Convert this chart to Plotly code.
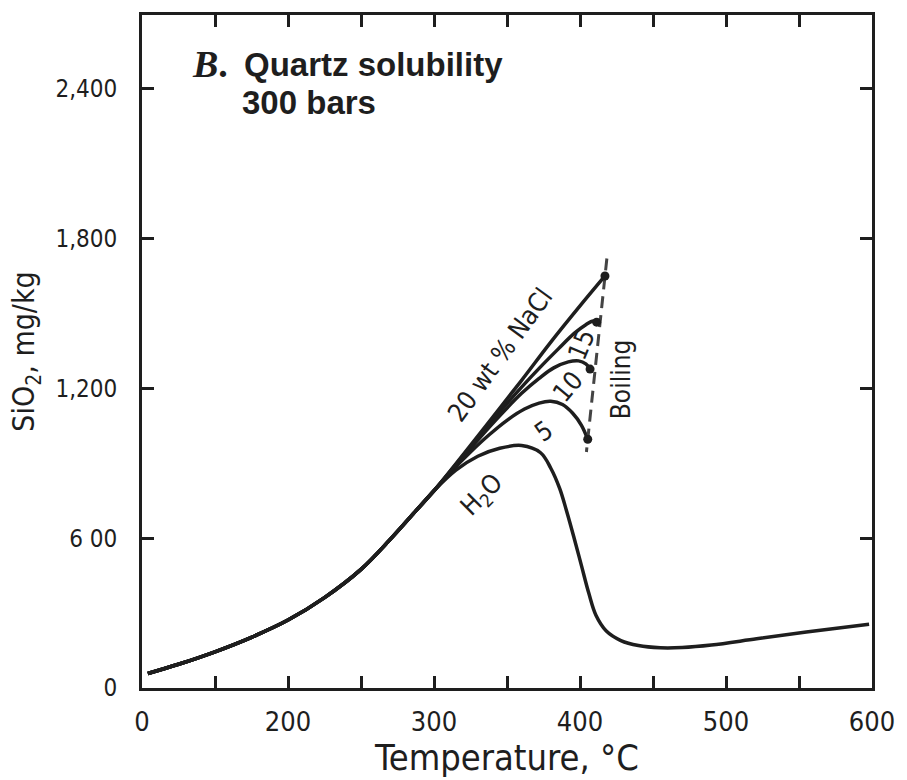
import plotly.graph_objects as go

# ---------------- data ----------------
# shared low-temperature part (all solutions coincide below ~290 °C)
common_T = [104, 125, 150, 175, 200, 225, 250, 270, 288, 300]
common_y = [58, 95, 145, 203, 272, 362, 475, 595, 712, 790]

h2o_T = [315, 330, 345, 360, 373, 380, 386, 391, 396, 401, 406, 411, 418, 428, 440, 455, 470, 490, 521, 555, 598]
h2o_y = [872, 928, 960, 971, 942, 880, 800, 705, 600, 490, 380, 290, 228, 190, 170, 161, 162, 172, 197, 224, 255]

nacl5_T = [312, 325, 338, 350, 362, 372, 380, 388, 395, 401, 405.3]
nacl5_y = [868, 945, 1015, 1072, 1117, 1141, 1148, 1135, 1100, 1052, 996]

nacl10_T = [315, 330, 345, 360, 372, 382, 392, 399, 404, 406.9]
nacl10_y = [892, 993, 1090, 1180, 1240, 1282, 1306, 1310, 1298, 1277]

nacl15_T = [315, 330, 345, 360, 372, 385, 396, 404, 409, 411.4]
nacl15_y = [895, 1002, 1106, 1205, 1280, 1357, 1420, 1455, 1470, 1465]

nacl20_T = [320, 340, 360, 380, 400, 417.1]
nacl20_y = [935, 1083, 1232, 1385, 1530, 1650]

boil_T = [418.4, 404.4]
boil_y = [1720, 945]

x_tickvals = [100, 200, 300, 400, 500, 600]
x_ticktext = ["0", "200", "300", "400", "500", "600"]
x_minorvals = [150, 250, 350, 450, 550]
y_tickvals = [0, 600, 1200, 1800, 2400]
y_ticktext = ["0", "6 00", "1,200", "1,800", "2,400"]

NARROW = "Liberation Sans Narrow, Arial Narrow, DejaVu Sans Condensed, sans-serif"
INK = "#1e1e1e"

fig = go.Figure()
line = dict(color=INK, width=3.5, shape="spline", smoothing=1.0)
for T, y in [(h2o_T, h2o_y), (nacl5_T, nacl5_y), (nacl10_T, nacl10_y),
             (nacl15_T, nacl15_y), (nacl20_T, nacl20_y)]:
    fig.add_trace(go.Scatter(x=common_T + T, y=common_y + y, mode="lines", line=line, hoverinfo="skip"))

fig.add_trace(go.Scatter(x=boil_T, y=boil_y, mode="lines",
                         line=dict(color="#444444", width=3, dash="12px,7px"), hoverinfo="skip"))

end_T = [nacl5_T[-1], nacl10_T[-1], nacl15_T[-1], nacl20_T[-1]]
end_y = [nacl5_y[-1], nacl10_y[-1], nacl15_y[-1], nacl20_y[-1]]
fig.add_trace(go.Scatter(x=end_T, y=end_y, mode="markers",
                         marker=dict(color=INK, size=9), hoverinfo="skip"))

lab_font = dict(family=NARROW, size=26, color=INK)
labels = [
    ("20 wt % NaCl", 345, 1335, -54),
    ("15", 401, 1378, -68),
    ("10", 392, 1208, -50),
    ("5", 375, 1030, -35),
    ("H<sub>2</sub>O", 333, 772, -45),
    ("Boiling", 428, 1236, -90),
]
for txt, x, y, ang in labels:
    fig.add_annotation(x=x, y=y, text=txt, showarrow=False, textangle=ang, font=lab_font)

# title
fig.add_annotation(xref="paper", yref="paper", x=0.066, y=0.9268, xanchor="left", yanchor="middle",
                   text="<b><i>B</i></b><b>.</b>", showarrow=False,
                   font=dict(family="Liberation Serif, serif", size=38, color=INK))
fig.add_annotation(xref="paper", yref="paper", x=0.137, y=0.9268, xanchor="left", yanchor="middle",
                   text="<b>Quartz solubility</b>", showarrow=False,
                   font=dict(family="Liberation Sans, Arial, sans-serif", size=33, color=INK))
fig.add_annotation(xref="paper", yref="paper", x=0.134, y=0.8706, xanchor="left", yanchor="middle",
                   text="<b>300 bars</b>", showarrow=False,
                   font=dict(family="Liberation Sans, Arial, sans-serif", size=33, color=INK))

tick_style = dict(ticks="inside", ticklen=12, tickwidth=2.5, tickcolor=INK)
axis_common = dict(showgrid=False, zeroline=False, showline=True, linecolor=INK, linewidth=3,
                   mirror="ticks", **tick_style)

fig.update_layout(
    width=907, height=780,
    margin=dict(l=142, r=27, t=12, b=92),
    paper_bgcolor="white", plot_bgcolor="white",
    showlegend=False,
    xaxis=dict(range=[100, 600], tickmode="array", tickvals=x_tickvals, ticktext=x_ticktext,
               minor=dict(tickmode="array", tickvals=x_minorvals, showgrid=False, **tick_style),
               tickfont=dict(family=NARROW, size=27, color=INK),
               title=dict(text="Temperature, °C", font=dict(family=NARROW, size=36, color=INK), standoff=2),
               ticklabelstandoff=8, **axis_common),
    yaxis=dict(range=[0, 2695], tickmode="array", tickvals=y_tickvals, ticktext=y_ticktext,
               tickfont=dict(family=NARROW, size=24, color=INK),
               title=dict(text="SiO<sub>2</sub>, mg/kg", font=dict(family=NARROW, size=30, color=INK), standoff=12),
               ticklabelstandoff=17, **axis_common),
)

fig.write_html("out.html")
